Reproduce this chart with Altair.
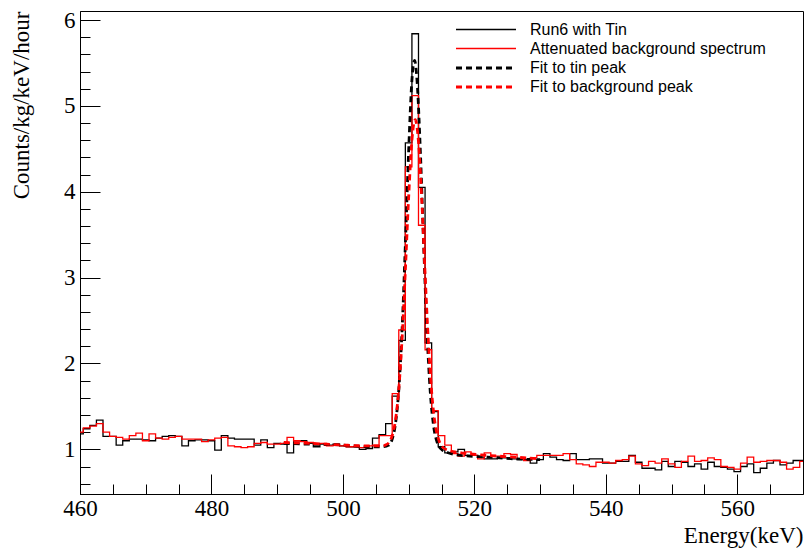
import altair as alt
import pandas as pd

# ---- data ----
energy = list(range(460, 571))  # bin centres, 1 keV bins

run6_tin = [
    1.18, 1.24, 1.28, 1.34, 1.15, 1.15, 1.05, 1.10, 1.12, 1.12,   # 460-469
    1.11, 1.10, 1.13, 1.15, 1.16, 1.15, 1.04, 1.10, 1.11, 1.11,   # 470-479
    1.10, 0.99, 1.16, 1.13, 1.12, 1.12, 1.12, 1.05, 1.11, 1.02,   # 480-489
    1.07, 1.06, 0.96, 1.10, 1.10, 1.07, 1.03, 1.06, 1.05, 1.06,   # 490-499
    1.04, 1.03, 1.03, 1.00, 1.01, 1.13, 1.17, 1.30, 1.62, 2.27,   # 500-509
    4.57, 5.84, 4.05, 2.24, 1.44, 1.03, 0.96, 0.97, 1.00, 0.93,   # 510-519
    0.93, 0.91, 0.89, 0.89, 0.90, 0.90, 0.89, 0.88, 0.88, 0.84,   # 520-529
    0.88, 0.95, 0.91, 0.88, 0.87, 0.95, 0.88, 0.88, 0.89, 0.89,   # 530-539
    0.84, 0.84, 0.86, 0.86, 0.93, 0.85, 0.78, 0.78, 0.76, 0.86,   # 540-549
    0.80, 0.86, 0.85, 0.80, 0.83, 0.77, 0.85, 0.80, 0.79, 0.77,   # 550-559
    0.74, 0.80, 0.83, 0.73, 0.78, 0.84, 0.87, 0.82, 0.84, 0.87,   # 560-569
    0.87,                                                         # 570
]

attenuated_bg = [
    1.20, 1.25, 1.27, 1.30, 1.20, 1.15, 1.14, 1.12, 1.16, 1.19,   # 460-469
    1.10, 1.18, 1.13, 1.12, 1.14, 1.15, 1.12, 1.12, 1.12, 1.09,   # 470-479
    1.11, 1.13, 1.14, 1.04, 1.03, 1.02, 1.03, 1.07, 1.08, 1.06,   # 480-489
    1.06, 1.07, 1.14, 1.10, 1.09, 1.08, 1.06, 1.07, 1.04, 1.05,   # 490-499
    1.04, 1.03, 1.03, 1.02, 1.04, 1.05, 1.16, 1.16, 1.65, 2.39,   # 500-509
    4.29, 5.12, 3.61, 2.16, 1.45, 1.16, 1.05, 0.95, 0.92, 0.97,   # 510-519
    0.93, 0.89, 0.96, 0.92, 0.92, 0.95, 0.94, 0.89, 0.87, 0.90,   # 520-529
    0.93, 0.93, 0.93, 0.93, 0.95, 0.88, 0.83, 0.82, 0.80, 0.85,   # 530-539
    0.85, 0.84, 0.87, 0.88, 0.92, 0.83, 0.81, 0.86, 0.84, 0.89,   # 540-549
    0.83, 0.79, 0.86, 0.92, 0.86, 0.87, 0.90, 0.88, 0.80, 0.79,   # 550-559
    0.77, 0.84, 0.91, 0.85, 0.86, 0.87, 0.87, 0.85, 0.77, 0.79,   # 560-569
    0.86,                                                         # 570
]

tin_fit_e = [491, 495, 500, 504, 506, 507, 507.5, 508, 508.5, 509, 509.5, 510,
             510.5, 510.9, 511.3, 511.8, 512.3, 512.8, 513.3, 513.8, 514.3,
             515, 516, 518, 522, 526, 530]
tin_fit_y = [1.07, 1.06, 1.05, 1.03, 1.03, 1.05, 1.12, 1.30, 1.69, 2.39, 3.38, 4.47,
             5.30, 5.53, 5.27, 4.44, 3.35, 2.36, 1.66, 1.27, 1.09,
             1.00, 0.96, 0.93, 0.91, 0.89, 0.88]

bg_fit_e = [491, 495, 500, 504, 506, 506.5, 507, 507.5, 508, 508.5, 509, 509.5,
            510, 510.5, 511, 511.5, 512, 512.5, 513, 513.5, 514, 514.5, 515,
            516, 518, 522, 526, 530]
bg_fit_y = [1.08, 1.07, 1.05, 1.04, 1.04, 1.05, 1.08, 1.16, 1.34, 1.70, 2.29, 3.08,
            3.93, 4.60, 4.84, 4.58, 3.90, 3.05, 2.26, 1.67, 1.31, 1.13, 1.04,
            0.99, 0.96, 0.93, 0.91, 0.89]

series = ["Run6 with Tin", "Attenuated background spectrum",
          "Fit to tin peak", "Fit to background peak"]

x_major = [460, 480, 500, 520, 540, 560]
x_minor = [465, 470, 475, 485, 490, 495, 505, 510, 515, 525, 530, 535,
           545, 550, 555, 565]
y_major = [1, 2, 3, 4, 5, 6]
y_minor = [0.6, 0.8, 1.2, 1.4, 1.6, 1.8, 2.2, 2.4, 2.6, 2.8, 3.2, 3.4, 3.6, 3.8,
           4.2, 4.4, 4.6, 4.8, 5.2, 5.4, 5.6, 5.8]

# ---- tables ----
black_df = pd.DataFrame({"energy": energy, "counts": run6_tin, "series": series[0]})
red_df = pd.DataFrame({"energy": energy, "counts": attenuated_bg, "series": series[1]})
tinfit_df = pd.DataFrame({"energy": tin_fit_e, "counts": tin_fit_y, "series": series[2]})
bgfit_df = pd.DataFrame({"energy": bg_fit_e, "counts": bg_fit_y, "series": series[3]})

SERIF = "Liberation Serif"
SANS = "Liberation Sans"

xs = alt.Scale(domain=[460, 570], nice=False, zero=False)
ys = alt.Scale(domain=[0.48, 6.105], nice=False, zero=False)

leg = dict(title=None, orient="none", legendX=397, legendY=10,
           symbolType="M-4,0H4", symbolSize=225,
           labelFont=SANS, labelFontSize=16, labelColor="black", labelLimit=400,
           padding=0, rowPadding=2, labelOffset=35, symbolOffset=0)

color = alt.Color("series:O",
                  scale=alt.Scale(domain=series, range=["black", "#ff0000", "black", "#ff0000"]),
                  legend=alt.Legend(**leg))
dash = alt.StrokeDash("series:O",
                      scale=alt.Scale(domain=series, range=[[1, 0], [1, 0], [6, 4], [6, 4]]),
                      legend=alt.Legend(**leg))
width_enc = alt.StrokeWidth("series:O",
                            scale=alt.Scale(type="ordinal", domain=series, range=[1.3, 1.3, 2.8, 2.8]),
                            legend=alt.Legend(**leg))

# axes: main (labels + domain), inward major ticks, inward minor ticks
ax_x_main = alt.Axis(orient="bottom", values=x_major, ticks=False, tickSize=0,
                     domain=True, domainColor="black", domainWidth=1, grid=False,
                     labelFont=SERIF, labelFontSize=23, labelColor="black",
                     labelPadding=3, labelFlush=False, labelOverlap=False, format="d",
                     title="Energy(keV)", titleFont=SERIF, titleFontSize=23,
                     titleFontWeight="normal", titleColor="black",
                     titleAlign="right", titleAnchor="end", titleX=723, titleY=48,
                     titleBaseline="alphabetic")
ax_y_main = alt.Axis(orient="left", values=y_major, ticks=False, tickSize=0,
                     domain=True, domainColor="black", domainWidth=1, grid=False,
                     labelFont=SERIF, labelFontSize=23, labelColor="black",
                     labelPadding=5, labelFlush=False, labelOverlap=False, format="d",
                     title="Counts/kg/keV/hour", titleFont=SERIF, titleFontSize=23,
                     titleFontWeight="normal", titleColor="black",
                     titleAngle=270, titleAlign="right", titleAnchor="end",
                     titleBaseline="bottom", titleX=-47, titleY=0)
ax_x_maj = alt.Axis(orient="bottom", values=x_major, ticks=True, tickSize=20,
                    tickColor="black", tickWidth=1, offset=-20, labels=False,
                    domain=False, grid=False, title=None)
ax_y_maj = alt.Axis(orient="left", values=y_major, ticks=True, tickSize=20,
                    tickColor="black", tickWidth=1, offset=-20, labels=False,
                    domain=False, grid=False, title=None)
ax_x_min = alt.Axis(orient="bottom", values=x_minor, ticks=True, tickSize=10,
                    tickColor="black", tickWidth=1, offset=-10, labels=False,
                    domain=False, grid=False, title=None)
ax_y_min = alt.Axis(orient="left", values=y_minor, ticks=True, tickSize=10,
                    tickColor="black", tickWidth=1, offset=-10, labels=False,
                    domain=False, grid=False, title=None)


def layer(df, xaxis, yaxis, interp):
    return alt.Chart(df).mark_line(interpolate=interp, clip=True).encode(
        x=alt.X("energy:Q", scale=xs, axis=xaxis),
        y=alt.Y("counts:Q", scale=ys, axis=yaxis),
        color=color, strokeDash=dash, strokeWidth=width_enc,
    )


l1 = layer(black_df, ax_x_main, ax_y_main, "step")
l2 = layer(red_df, ax_x_maj, ax_y_maj, "step")
l3 = layer(tinfit_df, ax_x_min, ax_y_min, "monotone")
l4 = layer(bgfit_df, None, None, "monotone")

chart = (
    alt.layer(l1, l2, l3, l4)
    .resolve_axis(x="independent", y="independent")
    .properties(width=723, height=483,
                autosize=alt.AutoSizeParams(type="none"),
                padding={"left": 80, "top": 11, "right": 5, "bottom": 58},
                background="white")
    .configure_view(stroke="black", strokeWidth=1)
)

chart.save("out.html", embed_options={"renderer": "svg", "actions": False})
